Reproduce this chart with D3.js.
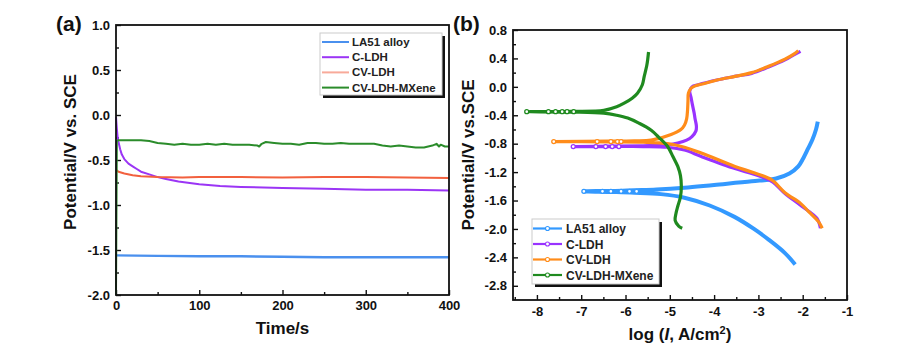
<!DOCTYPE html>
<html>
<head>
<meta charset="utf-8">
<script src="https://cdn.jsdelivr.net/npm/d3@7"></script>
<style>
  body { margin: 0; background: #fff; }
  svg text { font-family: "Liberation Sans", Arial, sans-serif; font-weight: bold; }
</style>
</head>
<body>
<svg id="chart" width="898" height="353"></svg>
<script>
// ---- panel (a): open circuit potential vs time ----
const ocpNames = ["LA51 alloy", "C-LDH", "CV-LDH", "CV-LDH-MXene"];
const ocpColors = ["#4a90ee", "#9b35f5", "#f2603e", "#2b8c2b"];
const ocpLegendColors = ["#4a90ee", "#9b35f5", "#f8aa9a", "#2b8c2b"];

const ocpLA51 = [[0, -1.56], [50, -1.565], [100, -1.57], [150, -1.57], [200, -1.575], [250, -1.58], [300, -1.58], [350, -1.58], [400, -1.58]];
const ocpCLDH = [[0, -0.02], [1, -0.15], [2, -0.25], [3, -0.30], [5, -0.38], [7, -0.44], [10, -0.49], [15, -0.54], [20, -0.57], [25, -0.60], [30, -0.63], [40, -0.66], [50, -0.69], [60, -0.71], [75, -0.74], [100, -0.77], [125, -0.79], [150, -0.80], [200, -0.81], [250, -0.82], [300, -0.83], [350, -0.83], [400, -0.84]];
const ocpCVLDH = [[0, -0.61], [3, -0.63], [10, -0.65], [20, -0.67], [30, -0.68], [50, -0.69], [80, -0.695], [100, -0.69], [150, -0.69], [200, -0.695], [250, -0.69], [300, -0.69], [350, -0.695], [400, -0.70]];
const ocpMXene = [[0, -2.0], [1, -0.29], [3, -0.28], [10, -0.28], [20, -0.28], [30, -0.28], [40, -0.29], [50, -0.31], [60, -0.32], [70, -0.33], [80, -0.32], [90, -0.33], [100, -0.33], [110, -0.32], [120, -0.33], [130, -0.32], [140, -0.33], [150, -0.33], [160, -0.33], [170, -0.34], [172, -0.35], [175, -0.32], [180, -0.30], [190, -0.31], [200, -0.32], [210, -0.32], [220, -0.33], [230, -0.31], [240, -0.31], [250, -0.32], [260, -0.32], [270, -0.31], [280, -0.32], [290, -0.32], [300, -0.32], [310, -0.32], [320, -0.34], [330, -0.35], [340, -0.34], [350, -0.35], [360, -0.36], [365, -0.36], [370, -0.36], [380, -0.34], [385, -0.32], [388, -0.35], [390, -0.33], [395, -0.35], [400, -0.35]];
const ocpSeries = [ocpLA51, ocpCLDH, ocpCVLDH, ocpMXene];

const ocpXTicks = [0, 100, 200, 300, 400];
const ocpYTicks = [1.0, 0.5, 0.0, -0.5, -1.0, -1.5, -2.0];

// ---- panel (b): Tafel curves [log I, E] ----
const tafNames = ["LA51 alloy", "C-LDH", "CV-LDH", "CV-LDH-MXene"];
const tafColors = ["#3399ff", "#9933ff", "#ff8c1a", "#1f8a1f"];

const tafLA51 = [[-2.17, -2.50], [-2.40, -2.34], [-2.77, -2.15], [-3.10, -2.00], [-3.54, -1.83], [-4.10, -1.67], [-4.67, -1.56], [-5.20, -1.51], [-5.80, -1.49], [-6.30, -1.48], [-6.94, -1.47], [-6.30, -1.465], [-5.80, -1.455], [-5.30, -1.445], [-4.67, -1.42], [-4.00, -1.38], [-3.15, -1.33], [-2.60, -1.29], [-2.30, -1.22], [-2.10, -1.12], [-2.00, -1.02], [-1.88, -0.87], [-1.78, -0.74], [-1.70, -0.60], [-1.66, -0.49]];
const tafCLDH = [[-1.60, -1.99], [-1.68, -1.85], [-2.02, -1.68], [-2.40, -1.50], [-2.70, -1.33], [-3.10, -1.23], [-3.53, -1.15], [-4.29, -0.98], [-4.67, -0.89], [-5.05, -0.85], [-5.60, -0.84], [-6.30, -0.84], [-7.18, -0.84], [-6.30, -0.835], [-5.60, -0.83], [-5.10, -0.82], [-4.82, -0.79], [-4.62, -0.75], [-4.50, -0.70], [-4.41, -0.62], [-4.40, -0.55], [-4.43, -0.45], [-4.45, -0.37], [-4.49, -0.25], [-4.52, -0.15], [-4.55, -0.06], [-4.50, 0.00], [-4.36, 0.03], [-3.91, 0.10], [-3.50, 0.15], [-3.15, 0.19], [-2.77, 0.28], [-2.40, 0.38], [-2.20, 0.45], [-2.05, 0.50]];
const tafCVLDH = [[-1.56, -1.99], [-1.64, -1.90], [-1.86, -1.76], [-2.05, -1.64], [-2.40, -1.49], [-2.70, -1.31], [-3.10, -1.21], [-3.53, -1.12], [-4.29, -0.93], [-4.67, -0.85], [-5.05, -0.80], [-5.60, -0.78], [-6.40, -0.775], [-7.62, -0.77], [-6.40, -0.765], [-5.80, -0.76], [-5.42, -0.75], [-4.97, -0.67], [-4.75, -0.60], [-4.67, -0.54], [-4.62, -0.45], [-4.60, -0.33], [-4.59, -0.20], [-4.58, -0.09], [-4.52, -0.02], [-4.44, 0.01], [-4.20, 0.05], [-3.91, 0.10], [-3.50, 0.15], [-3.15, 0.20], [-2.77, 0.29], [-2.40, 0.39], [-2.20, 0.46], [-2.10, 0.51]];
const tafMXene = [[-4.72, -1.99], [-4.80, -1.96], [-4.88, -1.88], [-4.86, -1.78], [-4.82, -1.68], [-4.76, -1.55], [-4.74, -1.40], [-4.76, -1.25], [-4.82, -1.12], [-4.93, -0.98], [-5.05, -0.84], [-5.25, -0.71], [-5.42, -0.61], [-5.70, -0.51], [-5.95, -0.44], [-6.20, -0.40], [-6.49, -0.37], [-7.20, -0.355], [-8.23, -0.35], [-7.20, -0.345], [-6.49, -0.33], [-6.20, -0.28], [-6.03, -0.23], [-5.85, -0.16], [-5.73, -0.09], [-5.62, 0.03], [-5.58, 0.14], [-5.52, 0.30], [-5.50, 0.38], [-5.48, 0.49]];
const tafSeries = [tafLA51, tafCLDH, tafCVLDH, tafMXene];

// sparse measured points visible near the corrosion potential
const tafMarkLA51 = [[-6.94, -1.47], [-6.52, -1.47], [-6.33, -1.47], [-6.10, -1.47], [-5.91, -1.47], [-5.75, -1.47]];
const tafMarkCLDH = [[-7.18, -0.84], [-6.67, -0.84], [-6.45, -0.84], [-6.30, -0.84], [-6.15, -0.84]];
const tafMarkCVLDH = [[-7.62, -0.77], [-6.64, -0.77], [-6.33, -0.77], [-6.18, -0.77], [-6.10, -0.77]];
const tafMarkMXene = [[-8.23, -0.35], [-7.74, -0.35], [-7.58, -0.35], [-7.43, -0.35], [-7.32, -0.35], [-7.17, -0.35]];
const tafMarks = [tafMarkLA51, tafMarkCLDH, tafMarkCVLDH, tafMarkMXene];

const tafXTicks = [-8, -7, -6, -5, -4, -3, -2, -1];
const tafYTicks = [0.8, 0.4, 0.0, -0.4, -0.8, -1.2, -1.6, -2.0, -2.4, -2.8];

const svg = d3.select("#chart");
const fmt1 = d3.format(".1f");
const minus = s => s.replace("\u2212", "-");

function frame(g, w, h) {
    g.append("rect")
        .attr("width", w).attr("height", h)
        .attr("fill", "none").attr("stroke", "#111").attr("stroke-width", 1.8);
}

function styleAxis(sel) {
    sel.select(".domain").remove();
    sel.selectAll("line").attr("stroke", "#111").attr("stroke-width", 1.4);
    sel.selectAll("text").attr("fill", "#111").style("font-size", "13px");
}

// ===== panel (a) =====
const A = {left: 116, top: 25, width: 333, height: 270};
const ga = svg.append("g").attr("transform", "translate(" + A.left + "," + A.top + ")");

const xa = d3.scaleLinear().domain([0, 400]).range([0, A.width]);
const ya = d3.scaleLinear().domain([-2.0, 1.0]).range([A.height, 0]);

ga.append("g").attr("transform", "translate(0," + A.height + ")")
    .call(d3.axisBottom(xa).tickValues(d3.range(50, 400, 100)).tickSize(-3).tickFormat(""))
    .call(styleAxis);
ga.append("g").attr("transform", "translate(0," + A.height + ")")
    .call(d3.axisBottom(xa).tickValues(ocpXTicks).tickSize(-5).tickPadding(6))
    .call(styleAxis);
ga.append("g")
    .call(d3.axisLeft(ya).tickValues(d3.range(-1.75, 1.0, 0.5)).tickSize(-3).tickFormat(""))
    .call(styleAxis);
ga.append("g")
    .call(d3.axisLeft(ya).tickValues(ocpYTicks).tickSize(-5).tickPadding(6).tickFormat(d => minus(fmt1(d))))
    .call(styleAxis);

const lineA = d3.line().x(d => xa(d[0])).y(d => ya(d[1]));
ocpSeries.forEach((s, i) => {
    ga.append("path")
        .datum(s)
        .attr("fill", "none")
        .attr("stroke", ocpColors[i])
        .attr("stroke-width", i === 0 ? 2.4 : 2)
        .attr("stroke-linejoin", "round")
        .attr("d", lineA);
});
frame(ga, A.width, A.height);

// legend (a)
const la = ga.append("g").attr("transform", "translate(204,8)");
la.append("rect").attr("x", 3).attr("y", 3).attr("width", 122).attr("height", 62).attr("fill", "#111");
la.append("rect").attr("width", 122).attr("height", 62).attr("fill", "#fff").attr("stroke", "#ccc").attr("stroke-width", 1);
ocpNames.forEach((n, i) => {
    const yy = 9 + i * 15.2;
    la.append("line").attr("x1", 2).attr("x2", 29).attr("y1", yy).attr("y2", yy)
        .attr("stroke", ocpLegendColors[i]).attr("stroke-width", 2);
    la.append("text").attr("x", 32).attr("y", yy + 4).style("font-size", "11.5px").attr("fill", "#222").text(n);
});

ga.append("text")
    .attr("x", A.width / 2).attr("y", A.height + 39)
    .attr("text-anchor", "middle").style("font-size", "17px").attr("fill", "#111")
    .text("Time/s");
svg.append("text")
    .attr("transform", "translate(76," + (A.top + A.height / 2 - 8) + ") rotate(-90)")
    .attr("text-anchor", "middle").style("font-size", "17px").attr("fill", "#111")
    .text("Potential/V vs. SCE");
svg.append("text").attr("x", 56).attr("y", 31).style("font-size", "21px").attr("fill", "#111").text("(a)");

// ===== panel (b) =====
const B = {left: 513, top: 30, width: 334, height: 270};
const gb = svg.append("g").attr("transform", "translate(" + B.left + "," + B.top + ")");

const xb = d3.scaleLinear().domain([-8.54, -1]).range([0, B.width]);
const yb = d3.scaleLinear().domain([-3.0, 0.8]).range([B.height, 0]);

gb.append("g").attr("transform", "translate(0," + B.height + ")")
    .call(d3.axisBottom(xb).tickValues(d3.range(-8.5, -1, 1)).tickSize(-3).tickFormat(""))
    .call(styleAxis);
gb.append("g").attr("transform", "translate(0," + B.height + ")")
    .call(d3.axisBottom(xb).tickValues(tafXTicks).tickSize(-5).tickPadding(7).tickFormat(d => minus(d3.format("d")(d))))
    .call(styleAxis);
gb.append("g")
    .call(d3.axisLeft(yb).tickValues(d3.range(-2.6, 0.8, 0.4)).tickSize(-3).tickFormat(""))
    .call(styleAxis);
gb.append("g")
    .call(d3.axisLeft(yb).tickValues(tafYTicks).tickSize(-5).tickPadding(6).tickFormat(d => minus(fmt1(d))))
    .call(styleAxis);

const lineB = d3.line().x(d => xb(d[0])).y(d => yb(d[1])).curve(d3.curveCatmullRom.alpha(0.5));
tafSeries.forEach((s, i) => {
    gb.append("path")
        .datum(s)
        .attr("fill", "none")
        .attr("stroke", tafColors[i])
        .attr("stroke-width", i === 0 ? 4 : 3.2)
        .attr("stroke-linejoin", "round")
        .attr("d", lineB);
    gb.selectAll(null)
        .data(tafMarks[i])
        .join("circle")
        .attr("cx", d => xb(d[0]))
        .attr("cy", d => yb(d[1]))
        .attr("r", 2)
        .attr("fill", "#fff")
        .attr("stroke", tafColors[i])
        .attr("stroke-width", 1.3);
});
frame(gb, B.width, B.height);

// legend (b)
const lb = gb.append("g").attr("transform", "translate(19,189)");
lb.append("rect").attr("x", 3).attr("y", 3).attr("width", 127).attr("height", 65).attr("fill", "#111");
lb.append("rect").attr("width", 127).attr("height", 65).attr("fill", "#fff").attr("stroke", "#ccc").attr("stroke-width", 1);
tafNames.forEach((n, i) => {
    const yy = 9.5 + i * 15.5;
    lb.append("line").attr("x1", 1).attr("x2", 30).attr("y1", yy).attr("y2", yy)
        .attr("stroke", tafColors[i]).attr("stroke-width", 2.2);
    lb.append("circle").attr("cx", 15.5).attr("cy", yy).attr("r", 2)
        .attr("fill", "#fff").attr("stroke", tafColors[i]).attr("stroke-width", 1.1);
    lb.append("text").attr("x", 34).attr("y", yy + 4.5).style("font-size", "12px").attr("fill", "#222").text(n);
});

const xt = gb.append("text")
    .attr("x", B.width / 2).attr("y", B.height + 40)
    .attr("text-anchor", "middle").style("font-size", "17px").attr("fill", "#111");
xt.append("tspan").text("log (");
xt.append("tspan").style("font-style", "italic").text("I");
xt.append("tspan").text(", A/cm");
xt.append("tspan").attr("dy", -6).style("font-size", "11px").text("2");
xt.append("tspan").attr("dy", 6).text(")");

svg.append("text")
    .attr("transform", "translate(474," + (B.top + B.height / 2 - 10) + ") rotate(-90)")
    .attr("text-anchor", "middle").style("font-size", "17px").attr("fill", "#111")
    .text("Potential/V vs.SCE");
svg.append("text").attr("x", 453).attr("y", 31).style("font-size", "21px").attr("fill", "#111").text("(b)");
</script>
</body>
</html>
